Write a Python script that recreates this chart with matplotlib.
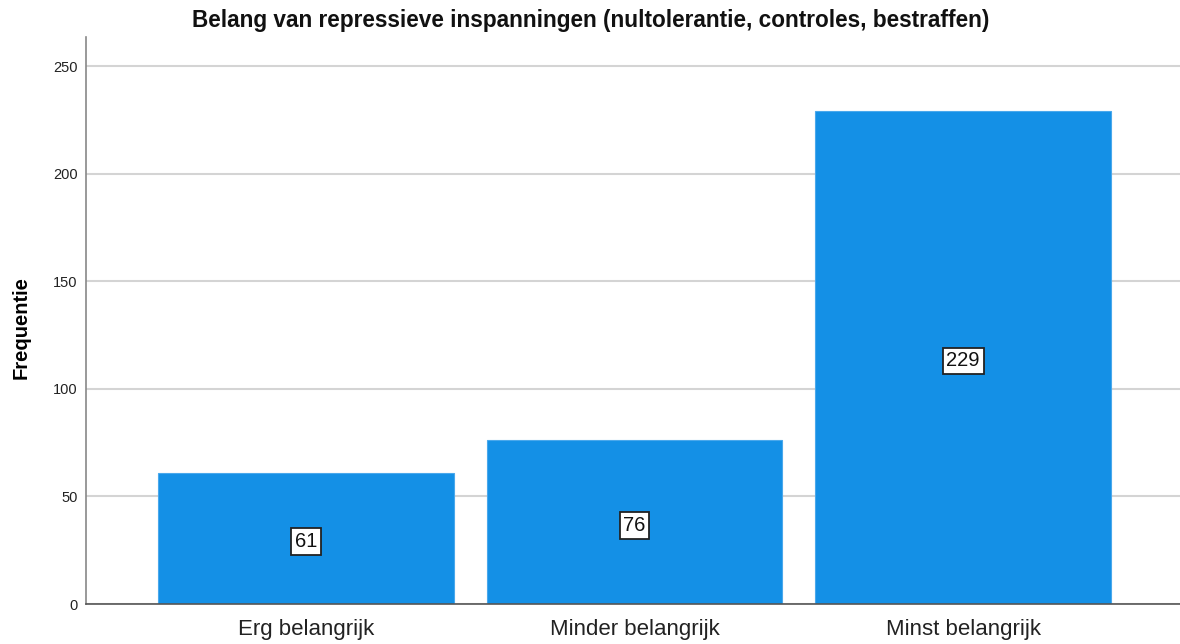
import matplotlib
matplotlib.use("Agg")
import matplotlib.pyplot as plt

categories = ["Erg belangrijk", "Minder belangrijk", "Minst belangrijk"]
values = [61, 76, 229]
yticks = [0, 50, 100, 150, 200, 250]

plt.rcParams['font.family'] = ['Liberation Sans', 'DejaVu Sans']

fig = plt.figure(figsize=(11.8, 6.44), dpi=100)
ax = fig.add_axes([86/1180, 40/644, 1 - 86/1180, (604-37)/644])

x = list(range(len(categories)))
ax.set_axisbelow(True)
ax.yaxis.grid(True, color='#d4d4d4', linewidth=1.5)
ax.bar(x, values, width=0.9, color='#1490e6', edgecolor='#4aa8ec', linewidth=0.8, zorder=2)
for xi, v in zip(x, values):
    ax.text(xi, v / 2 - 1.5, str(v), ha='center', va='center', fontsize=14.5, color='#111111', zorder=3,
            bbox=dict(boxstyle='square,pad=0.18', facecolor='white', edgecolor='#222222', linewidth=1.3))

ax.set_xlim(-0.67, 2.66)
ax.set_ylim(0, 263.5)
ax.set_yticks(yticks)
ax.set_yticklabels([str(t) for t in yticks], fontsize=10.5, color='#222222')
ax.set_xticks(x)
ax.set_xticklabels(categories, fontsize=16, color='#222222')
ax.tick_params(axis='x', length=0, pad=11)
ax.tick_params(axis='y', length=0, pad=6)
for s in ['top', 'right']:
    ax.spines[s].set_visible(False)
ax.spines['left'].set_color('#888888')
ax.spines['left'].set_linewidth(1.2)
ax.spines['bottom'].set_color('#555555')
ax.spines['bottom'].set_linewidth(1.2)
ax.set_ylabel("Frequentie", fontsize=14.5, fontweight='bold', labelpad=0)
ax.yaxis.set_label_coords(-(86 - 31) / (1180 - 86), (604 - 328) / (604 - 37))
fig.text(591/1180, 1 - 21/644, "Belang van repressieve inspanningen (nultolerantie, controles, bestraffen)",
         ha='center', va='center', fontsize=16.3, fontweight='bold', color='#111111')

fig.savefig("out.png", dpi=100)
